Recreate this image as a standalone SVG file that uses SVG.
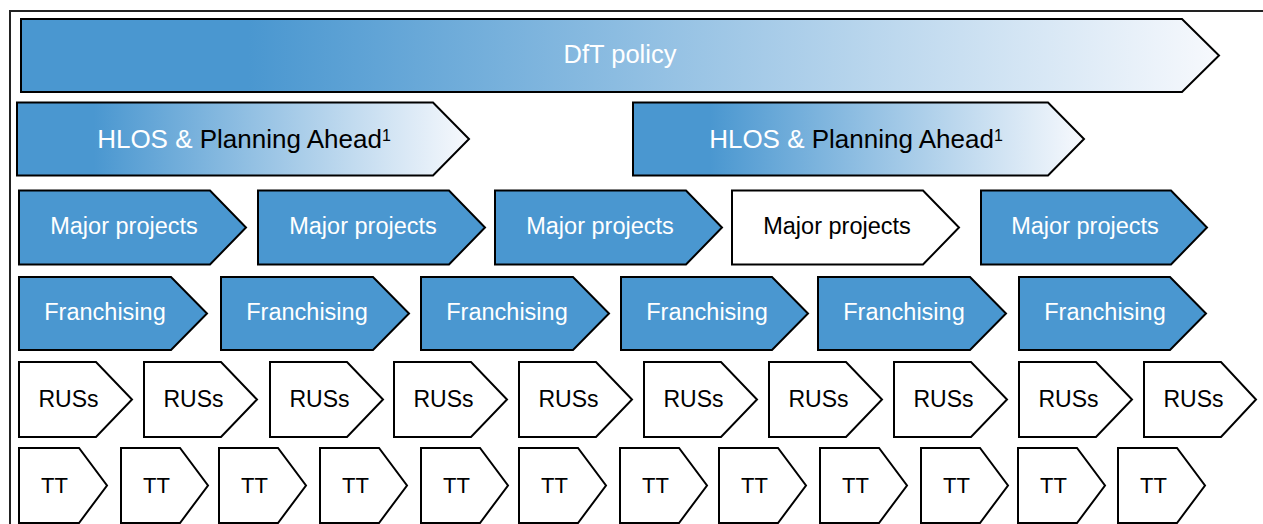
<svg xmlns="http://www.w3.org/2000/svg" width="1263" height="524" viewBox="0 0 1263 524">
<style>
.b{fill:#4a97d0;stroke:#000;stroke-width:2;stroke-linejoin:miter}
.w{fill:#fff;stroke:#000;stroke-width:2;stroke-linejoin:miter}
.g{stroke:#000;stroke-width:2;stroke-linejoin:miter}
text{font-family:"Liberation Sans",Arial,sans-serif;text-anchor:middle}
.tw{fill:#fff}
.tk{fill:#000}
.mp{font-size:23.5px}
.fr{font-size:23.5px}
.ru{font-size:23px}
.tt{font-size:22px}
.big{font-size:25.5px}
.hl{font-size:26px}
.sup{font-size:16px}
</style>
<defs>
<linearGradient id="gDft" gradientUnits="userSpaceOnUse" x1="21" y1="0" x2="1219" y2="0">
<stop offset="0" stop-color="#4a97d0"/>
<stop offset="0.19" stop-color="#4a97d0"/>
<stop offset="1" stop-color="#f7f9fd"/>
</linearGradient>
<linearGradient id="gHlos" x1="0" y1="0" x2="1" y2="0">
<stop offset="0" stop-color="#4a97d0"/>
<stop offset="0.17" stop-color="#4a97d0"/>
<stop offset="1" stop-color="#f7f9fd"/>
</linearGradient>
</defs>
<rect x="0" y="0" width="1263" height="524" fill="#fff"/>
<rect id="frame" x="10" y="11" width="1300" height="600" fill="none" stroke="#222" stroke-width="2"/>

<g id="dft">
<polygon class="g" fill="url(#gDft)" points="21,19 1182,19 1219,55.5 1182,92 21,92"/>
<text class="tw big" x="620" y="63">DfT policy</text>
</g>

<g id="hlos1">
<polygon class="g" fill="url(#gHlos)" points="17,102.5 433,102.5 469,139 433,175.5 17,175.5"/>
<text class="hl" x="244" y="148.3"><tspan class="tw">HLOS &amp; </tspan><tspan class="tk">Planning Ahead</tspan><tspan class="tk sup" dy="-7">1</tspan></text>
</g>
<g id="hlos2">
<polygon class="g" fill="url(#gHlos)" points="633,102.5 1048,102.5 1084,139 1048,175.5 633,175.5"/>
<text class="hl" x="856" y="148.3"><tspan class="tw">HLOS &amp; </tspan><tspan class="tk">Planning Ahead</tspan><tspan class="tk sup" dy="-7">1</tspan></text>
</g>

<g id="major1"><polygon class="b" points="19,190.5 210,190.5 246,227.5 210,264.5 19,264.5"/><text class="tw mp" x="124" y="234.3">Major projects</text></g>
<g id="major2"><polygon class="b" points="258,190.5 449,190.5 485,227.5 449,264.5 258,264.5"/><text class="tw mp" x="363" y="234.3">Major projects</text></g>
<g id="major3"><polygon class="b" points="495,190.5 686,190.5 722,227.5 686,264.5 495,264.5"/><text class="tw mp" x="600" y="234.3">Major projects</text></g>
<g id="major4"><polygon class="w" points="732,190.5 923,190.5 959,227.5 923,264.5 732,264.5"/><text class="tk mp" x="837" y="234.3">Major projects</text></g>
<g id="major5"><polygon class="b" points="981,190.5 1171,190.5 1207,227.5 1171,264.5 981,264.5"/><text class="tw mp" x="1085" y="234.3">Major projects</text></g>

<g id="fr1"><polygon class="b" points="19,277 171,277 207,313.5 171,350 19,350"/><text class="tw fr" x="105" y="320">Franchising</text></g>
<g id="fr2"><polygon class="b" points="221,277 373,277 409,313.5 373,350 221,350"/><text class="tw fr" x="307" y="320">Franchising</text></g>
<g id="fr3"><polygon class="b" points="421,277 573,277 609,313.5 573,350 421,350"/><text class="tw fr" x="507" y="320">Franchising</text></g>
<g id="fr4"><polygon class="b" points="621,277 772,277 808,313.5 772,350 621,350"/><text class="tw fr" x="707" y="320">Franchising</text></g>
<g id="fr5"><polygon class="b" points="818,277 970,277 1006,313.5 970,350 818,350"/><text class="tw fr" x="904" y="320">Franchising</text></g>
<g id="fr6"><polygon class="b" points="1019,277 1170,277 1206,313.5 1170,350 1019,350"/><text class="tw fr" x="1105" y="320">Franchising</text></g>

<g id="rus1"><polygon class="w" points="19,362 96,362 132,399.5 96,437 19,437"/><text class="tk ru" x="68.5" y="407">RUSs</text></g>
<g id="rus2"><polygon class="w" points="144,362 221,362 257,399.5 221,437 144,437"/><text class="tk ru" x="193.5" y="407">RUSs</text></g>
<g id="rus3"><polygon class="w" points="270,362 347,362 383,399.5 347,437 270,437"/><text class="tk ru" x="319.5" y="407">RUSs</text></g>
<g id="rus4"><polygon class="w" points="394,362 471,362 507,399.5 471,437 394,437"/><text class="tk ru" x="443.5" y="407">RUSs</text></g>
<g id="rus5"><polygon class="w" points="519,362 596,362 632,399.5 596,437 519,437"/><text class="tk ru" x="568.5" y="407">RUSs</text></g>
<g id="rus6"><polygon class="w" points="644,362 721,362 757,399.5 721,437 644,437"/><text class="tk ru" x="693.5" y="407">RUSs</text></g>
<g id="rus7"><polygon class="w" points="769,362 846,362 882,399.5 846,437 769,437"/><text class="tk ru" x="818.5" y="407">RUSs</text></g>
<g id="rus8"><polygon class="w" points="894,362 971,362 1007,399.5 971,437 894,437"/><text class="tk ru" x="943.5" y="407">RUSs</text></g>
<g id="rus9"><polygon class="w" points="1019,362 1096,362 1132,399.5 1096,437 1019,437"/><text class="tk ru" x="1068.5" y="407">RUSs</text></g>
<g id="rus10"><polygon class="w" points="1144,362 1221,362 1256,399.5 1221,437 1144,437"/><text class="tk ru" x="1193.5" y="407">RUSs</text></g>

<g id="tt1"><polygon class="w" points="19,448 79,448 107,485.5 79,523 19,523"/><text class="tk tt" x="54.5" y="492.5">TT</text></g>
<g id="tt2"><polygon class="w" points="121,448 180,448 208,485.5 180,523 121,523"/><text class="tk tt" x="156.5" y="492.5">TT</text></g>
<g id="tt3"><polygon class="w" points="219,448 278,448 306,485.5 278,523 219,523"/><text class="tk tt" x="254.5" y="492.5">TT</text></g>
<g id="tt4"><polygon class="w" points="320,448 379,448 407,485.5 379,523 320,523"/><text class="tk tt" x="355.5" y="492.5">TT</text></g>
<g id="tt5"><polygon class="w" points="421,448 480,448 508,485.5 480,523 421,523"/><text class="tk tt" x="456.5" y="492.5">TT</text></g>
<g id="tt6"><polygon class="w" points="519,448 578,448 606,485.5 578,523 519,523"/><text class="tk tt" x="554.5" y="492.5">TT</text></g>
<g id="tt7"><polygon class="w" points="620,448 679,448 707,485.5 679,523 620,523"/><text class="tk tt" x="655.5" y="492.5">TT</text></g>
<g id="tt8"><polygon class="w" points="719,448 778,448 806,485.5 778,523 719,523"/><text class="tk tt" x="754.5" y="492.5">TT</text></g>
<g id="tt9"><polygon class="w" points="820,448 879,448 907,485.5 879,523 820,523"/><text class="tk tt" x="855.5" y="492.5">TT</text></g>
<g id="tt10"><polygon class="w" points="921,448 980,448 1008,485.5 980,523 921,523"/><text class="tk tt" x="956.5" y="492.5">TT</text></g>
<g id="tt11"><polygon class="w" points="1018,448 1077,448 1105,485.5 1077,523 1018,523"/><text class="tk tt" x="1053.5" y="492.5">TT</text></g>
<g id="tt12"><polygon class="w" points="1118,448 1177,448 1205,485.5 1177,523 1118,523"/><text class="tk tt" x="1153.5" y="492.5">TT</text></g>
</svg>
